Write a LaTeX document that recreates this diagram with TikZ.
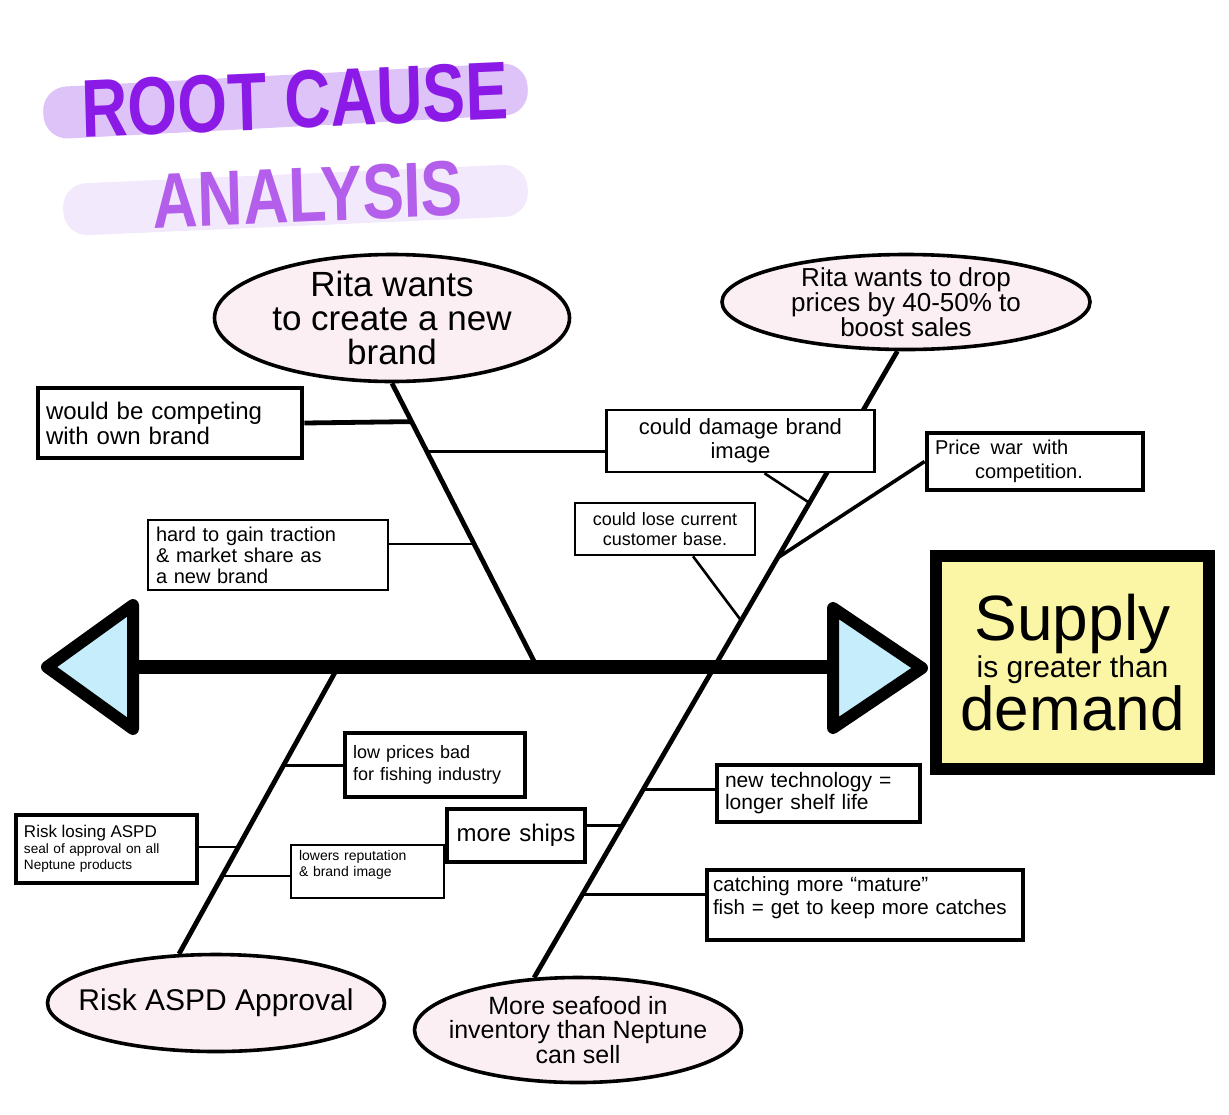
\documentclass[tikz,border=0pt]{standalone}
\usepackage{fontspec}
\setmainfont{Liberation Sans}
\usetikzlibrary{shapes.geometric,backgrounds}

\definecolor{rootpurple}{HTML}{8C1AE6}
\definecolor{analysispurple}{HTML}{B45EEC}
\definecolor{bandlilac}{HTML}{DDC3F7}
\definecolor{bandpale}{HTML}{F2E9FC}
\definecolor{bubblepink}{HTML}{FBEFF4}
\definecolor{headblue}{HTML}{C6EDFB}
\definecolor{effectyellow}{HTML}{FAF6A6}

\tikzset{
  bubble/.style={ellipse, draw, line width=1.8pt, fill=bubblepink, inner sep=-12pt, align=center},
  cbox/.style={draw, fill=white, inner sep=0pt, inner xsep=4pt},
  thickbox/.style={cbox, line width=2.4pt},
  thinbox/.style={cbox, line width=1.3pt},
  bone/.style={line width=2.4pt},
  twig/.style={line width=1.3pt},
  fishhead/.style={draw, line width=6pt, line join=round, fill=headblue},
}

\begin{document}
\begin{tikzpicture}[x=0.5pt,y=-0.5pt]
    \useasboundingbox (0,0) rectangle (1229,1114);

    \node[font=\bfseries\fontsize{41}{41}\selectfont, text=rootpurple, xscale=0.78, rotate=2] (roottitle) at (295,100) {ROOT CAUSE};
    \node[font=\bfseries\fontsize{39}{39}\selectfont, text=analysispurple, xscale=0.8, rotate=2] (analysistitle) at (308,195) {ANALYSIS};

    \node[bubble, minimum width=177.5pt, minimum height=63.5pt, font=\fontsize{17.5}{17}\selectfont] (newbrand) at (392,318) {Rita wants\\to create a new\\brand};
    \node[bubble, minimum width=184pt, minimum height=47.5pt, font=\fontsize{13}{12.5}\selectfont] (dropprice) at (906,302) {Rita wants to drop\\prices by 40-50\% to\\boost sales};
    \node[bubble, minimum width=168.5pt, minimum height=48.5pt, font=\fontsize{15}{16}\selectfont] (aspd) at (216,1003) {Risk ASPD Approval};
    \node[bubble, minimum width=163.5pt, minimum height=52.5pt, font=\fontsize{12.5}{12.2}\selectfont] (seafood) at (578,1030) {More seafood in\\inventory than Neptune\\can sell};

    \node[thickbox, text width=124pt, minimum height=35pt, align=left, font=\fontsize{12}{12.5}\selectfont] (compbox) at (170,423) {would be competing\\with own brand};
    \node[thinbox, text width=126pt, minimum height=31pt, align=center, font=\fontsize{11}{12}\selectfont] (dambox) at (740.5,441) {could damage brand\\image};
    \node[thinbox, text width=112pt, minimum height=35pt, align=left, font=\fontsize{10}{10.5}\selectfont] (tracbox) at (268,555) {hard to gain traction\\\& market share as\\a new brand};
    \node[thinbox, text width=82pt, minimum height=26pt, align=center, font=\fontsize{9}{10}\selectfont] (losebox) at (665,529) {could lose current\\customer base.};
    \node[thickbox, text width=100pt, minimum height=28.5pt, align=left, font=\fontsize{10}{12}\selectfont] (pricebox) at (1035,461.5) {Price\enspace war\enspace with\\\hspace{20pt}competition.};

    \node[draw, line width=6pt, fill=effectyellow, inner sep=0pt, minimum width=136.5pt, minimum height=106.5pt, align=center] (effect) at (1072.5,662.5) {{\fontsize{32}{34}\selectfont Supply}\\{\fontsize{15}{17}\selectfont is greater than}\\{\fontsize{31}{32}\selectfont demand}};

    \node[thickbox, text width=82pt, minimum height=32pt, align=left, font=\fontsize{9}{11}\selectfont] (lowbox) at (435,765) {low prices bad\\for fishing industry};
    \node[thickbox, text width=82.5pt, minimum height=34pt, align=left, font=\fontsize{6.8}{8}\selectfont] (aspdbox) at (106.5,849) {{\fontsize{8.5}{9.5}\selectfont Risk losing ASPD}\\seal of approval on all\\Neptune products};
    \node[thinbox, text width=68.5pt, minimum height=26.5pt, align=left, font=\fontsize{7}{8}\selectfont] (repbox) at (367.5,871.5) {lowers reputation\\\& brand image\\~};
    \node[thickbox, text width=61pt, minimum height=26.5pt, align=center, font=\fontsize{12}{13}\selectfont] (shipbox) at (516,835.5) {more ships};
    \node[thickbox, text width=93.5pt, minimum height=28.5pt, align=left, font=\fontsize{10.5}{11}\selectfont] (techbox) at (818.5,793.5) {new technology =\\longer shelf life};
    \node[thickbox, inner xsep=3pt, text width=152pt, minimum height=35pt, align=left, font=\fontsize{10.3}{11.5}\selectfont] (maturebox) at (865,905) {catching more “mature”\\fish = get to keep more catches\\[-2pt]~};

    \coordinate (tailL) at (133,667);
    \coordinate (headR) at (833,667);
    \coordinate (jul) at (537,667);
    \coordinate (jll) at (338,667);

    \draw[line width=7pt] (tailL) -- (headR);
    \draw[fishhead] (47,667) -- (133,605) -- (133,729) -- cycle;
    \draw[fishhead] (833,608) -- (922,668) -- (833,728) -- cycle;

    \begin{pgfonlayer}{background}
      \fill[white] (0,0) rectangle (1229,1114);
      \fill[bandlilac, rounded corners=12pt, rotate around={3:(286,101)}] (43,75) rectangle (528,127);
      \fill[bandpale, rounded corners=12pt, rotate around={2.5:(296,200)}] (63,174) rectangle (528,226);

      \draw[bone] (newbrand.south) -- coordinate[pos=.135] (jA) coordinate[pos=.24] (jB) coordinate[pos=.566] (jC) (jul);
      \draw[bone] (dropprice.-100) -- coordinate[pos=.242] (jB2) coordinate[pos=.33] (jE) coordinate[pos=.43] (jD) coordinate[pos=.70] (jJ) coordinate[pos=.757] (jI) coordinate[pos=.867] (jK) (seafood.130);
      \draw[bone] (jll) -- coordinate[pos=.344] (jF) coordinate[pos=.628] (jG) coordinate[pos=.729] (jH) (aspd.127);

      \draw[bone] (compbox.east) -- (jA);
      \draw[twig] (dambox.west |- jB) -- (jB);
      \draw[twig] (tracbox.east |- jC) -- (jC);
      \draw[twig] ([xshift=12pt]dambox.south) -- (jB2);
      \draw[twig] ([xshift=14pt]losebox.south) -- (jD);
      \draw[line width=1.8pt] (pricebox.west) -- (jE);
      \draw[line width=1.8pt] (shipbox.east |- jI) -- (jI);
      \draw[twig] (techbox.west |- jJ) -- (jJ);
      \draw[twig] (maturebox.west |- jK) -- (jK);
      \draw[twig] (lowbox.west |- jF) -- (jF);
      \draw[twig] (aspdbox.east |- jG) -- (jG);
      \draw[twig] (repbox.west |- jH) -- (jH);
    \end{pgfonlayer}
\end{tikzpicture}
\end{document}
